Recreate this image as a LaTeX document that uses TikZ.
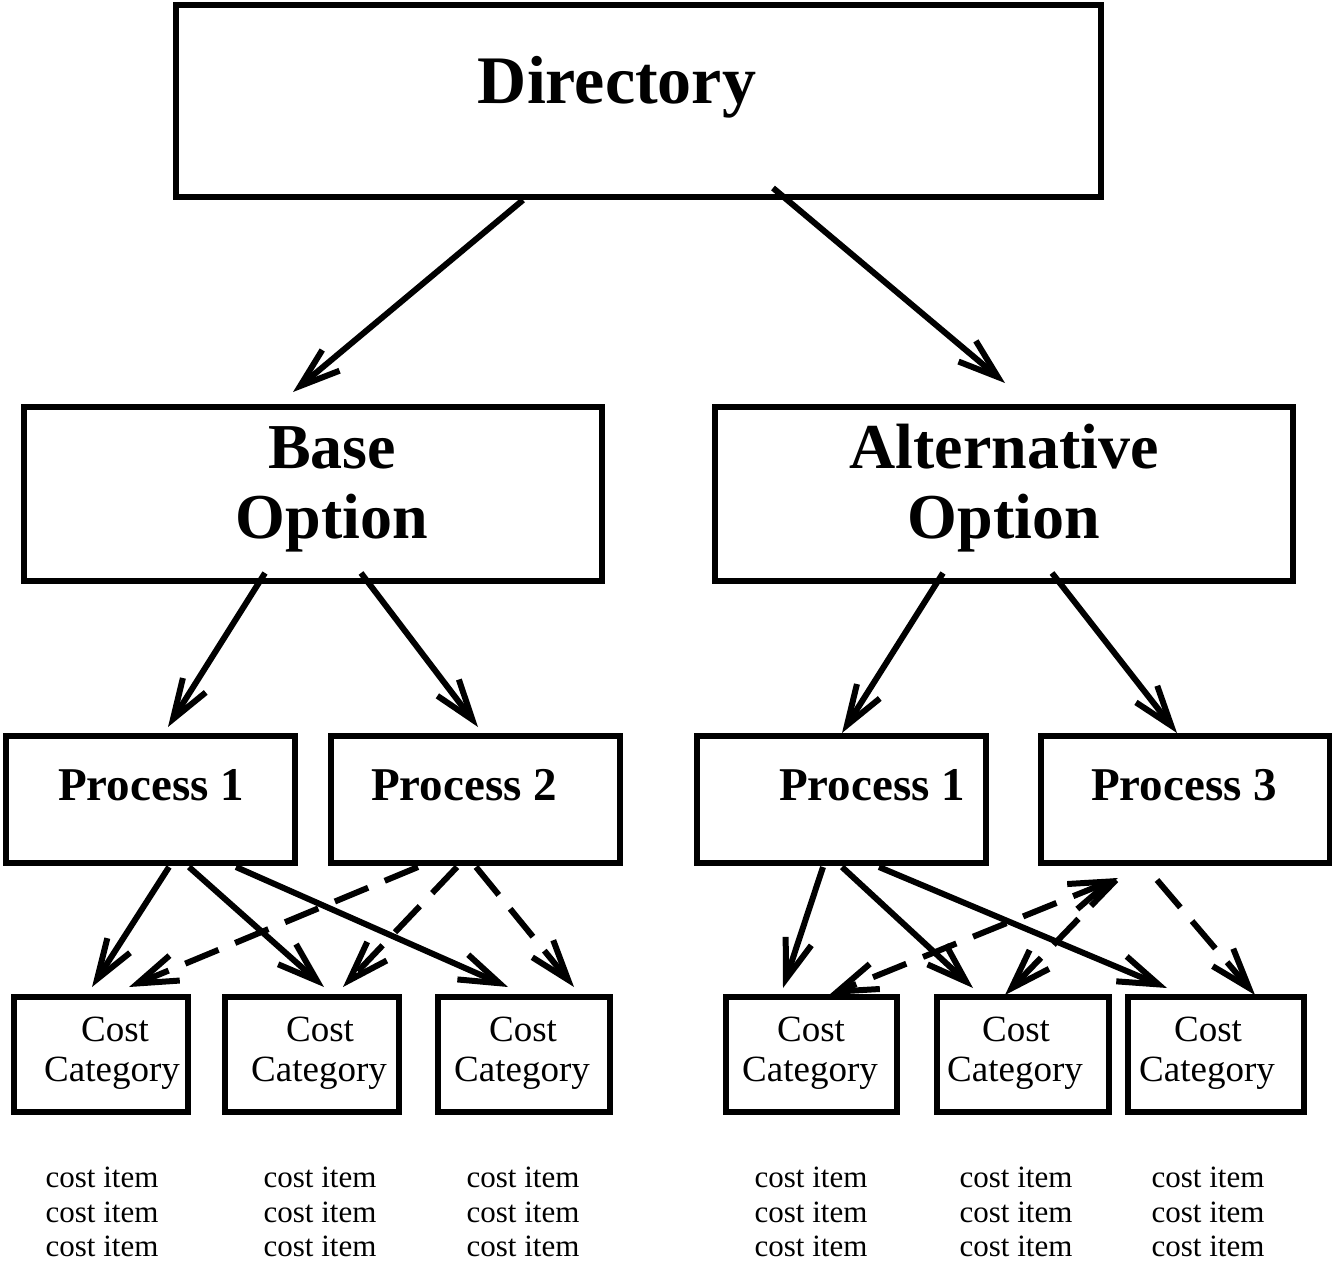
\documentclass[tikz,border=0pt]{standalone}
\usepackage{fontspec}
\setmainfont{Liberation Serif}
\usetikzlibrary{arrows.meta}

\begin{document}
\begin{tikzpicture}[x=1pt,y=-1pt,
  box/.style={draw, rectangle, line width=5.5pt, inner sep=0pt, outer sep=0pt},
  toptxt/.style={anchor=base, font=\bfseries\fontsize{68}{70}\selectfont},
  opttxt/.style={anchor=base, font=\bfseries\fontsize{64}{70}\selectfont},
  proctxt/.style={anchor=base, font=\bfseries\fontsize{47}{50}\selectfont},
  cattxt/.style={anchor=base, font=\fontsize{37}{40}\selectfont},
  itemtxt/.style={anchor=base, font=\fontsize{31}{34}\selectfont},
  link/.style={line width=6pt, -{Straight Barb[length=40pt, width=27pt]}},
  duallink/.style={line width=6pt, {Straight Barb[length=40pt, width=27pt]}-{Straight Barb[length=40pt, width=27pt]}},
  dsh/.style={dash pattern=on 36pt off 18pt}
]
\useasboundingbox (0,0) rectangle (1332,1263);

% top level
\node[box, minimum width=925pt, minimum height=192pt] (dir) at (638.5,101) {};
\node[toptxt] (dirT) at (617,103) {Directory};

% options
\node[box, minimum width=578pt, minimum height=174pt] (base) at (313,494) {};
\node[opttxt] (baseT1) at (332,468) {Base};
\node[opttxt] (baseT2) at (332,538) {Option};
\node[box, minimum width=578pt, minimum height=174pt] (alt) at (1004,494) {};
\node[opttxt] (altT1) at (1004,468) {Alternative};
\node[opttxt] (altT2) at (1004,538) {Option};

% processes
\node[box, minimum width=289pt, minimum height=127pt] (p1) at (150.5,799.5) {};
\node[proctxt] (p1T) at (151,800) {Process 1};
\node[box, minimum width=289pt, minimum height=127pt] (p2) at (475.5,799.5) {};
\node[proctxt] (p2T) at (464,800) {Process 2};
\node[box, minimum width=289pt, minimum height=127pt] (p1r) at (841.5,799.5) {};
\node[proctxt] (p1rT) at (872,800) {Process 1};
\node[box, minimum width=289pt, minimum height=127pt] (p3) at (1185.5,799.5) {};
\node[proctxt] (p3T) at (1184,800) {Process 3};

% cost categories
\foreach \n/\cx/\w/\tc/\tg in {c1/101/174/115/112, c2/312/174/320/319, c3/524/172/523/522,
                               c4/811.5/171/811/810, c5/1023/172/1016/1015, c6/1216/176/1208/1207}{
  \node[box, minimum width=\w pt, minimum height=115pt] (\n) at (\cx,1054.5) {};
  \node[cattxt] (\n-a) at (\tc,1041) {Cost};
  \node[cattxt] (\n-b) at (\tg,1081) {Category};
}

% cost items
\foreach \k/\ix in {1/102, 2/320, 3/523, 4/811, 5/1016, 6/1208}{
  \foreach \r/\iy in {1/1187, 2/1222, 3/1256}{
    \node[itemtxt] (item-\k-\r) at (\ix,\iy) {cost item};
  }
}

% directory to options
\draw[link] ([shift={(347,3)}]dir.south west) -- ([shift={(269,-15)}]base.north west);
\draw[link] ([shift={(597,-9)}]dir.south west) -- ([shift={(290,-24)}]alt.north west);

% options to processes
\draw[link] ([shift={(241,-8)}]base.south west) -- ([shift={(162,-9)}]p1.north west);
\draw[link] ([shift={(337,-8)}]base.south west) -- ([shift={(147,-9)}]p2.north west);
\draw[link] ([shift={(228,-8)}]alt.south west) -- ([shift={(145,-3)}]p1r.north west);
\draw[link] ([shift={(337,-8)}]alt.south west) -- ([shift={(136,-3)}]p3.north west);

% base option processes to categories
\draw[link] ([shift={(163,4)}]p1.south west) -- ([shift={(78,-10)}]c1.north west);
\draw[link] ([shift={(183,4)}]p1.south west) -- ([shift={(99,-10)}]c2.north west);
\draw[link] ([shift={(230,4)}]p1.south west) -- ([shift={(70,-10)}]c3.north west);
\draw[link,dsh] ([shift={(87,4)}]p2.south west) -- ([shift={(115,-10)}]c1.north west);
\draw[link,dsh] ([shift={(126,4)}]p2.south west) -- ([shift={(118,-10)}]c2.north west);
\draw[link,dsh] ([shift={(145,4)}]p2.south west) -- ([shift={(136,-10)}]c3.north west);

% alternative option processes to categories
\draw[link] ([shift={(126,4)}]p1r.south west) -- ([shift={(57,-9)}]c4.north west);
\draw[link] ([shift={(145,4)}]p1r.south west) -- ([shift={(36,-9)}]c5.north west);
\draw[link] ([shift={(182,4)}]p1r.south west) -- ([shift={(39,-9)}]c6.north west);
\draw[duallink,dsh] ([shift={(77,15)}]p3.south west) -- ([shift={(103,-2)}]c4.north west);
\draw[link,dsh] ([shift={(75,17)}]p3.south west) -- ([shift={(68,-2)}]c5.north west);
\draw[link,dsh] ([shift={(116,17)}]p3.south west) -- ([shift={(127,-2)}]c6.north west);
\end{tikzpicture}
\end{document}
